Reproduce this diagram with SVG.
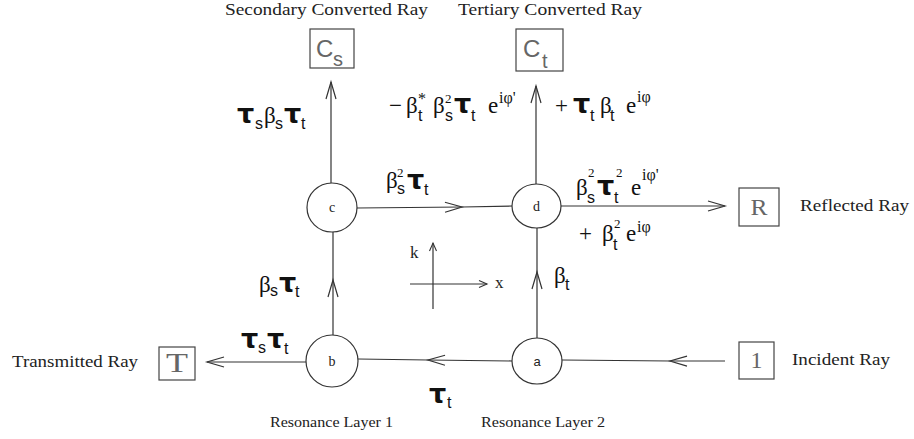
<svg xmlns="http://www.w3.org/2000/svg" width="914" height="439" viewBox="0 0 914 439">
<style>
.ln{stroke:#333;stroke-width:1.2;fill:none}
.nd{fill:#fff;stroke:#333;stroke-width:1.2}
.bx{fill:#fff;stroke:#444;stroke-width:1.2}
.cap{font-family:"Liberation Serif","Times New Roman",serif;font-size:17px;fill:#222}
.rl{font-size:14px}
.nl{font-family:"Liberation Serif",serif;font-size:14px;fill:#222;text-anchor:middle}
.bl{font-family:"Liberation Serif",serif;fill:#666;text-anchor:middle}
.cl{font-family:"Liberation Sans",sans-serif;fill:#666}
.m{fill:#111}
.tau{font-family:"DejaVu Sans",sans-serif;font-weight:bold;font-size:27px}
.b{font-family:"Liberation Serif",serif;font-size:23px}
.sb{font-family:"Liberation Sans",sans-serif;font-size:16px}
.sp{font-family:"Liberation Serif",serif;font-size:16px}
.s2{font-family:"Liberation Serif",serif;font-size:13px}
</style>
<defs>
<marker id="ah" markerUnits="userSpaceOnUse" markerWidth="20" markerHeight="14" refX="18" refY="7" orient="auto" overflow="visible"><path d="M1,2 L18,7 L1,12" fill="none" stroke="#333" stroke-width="1.2"/></marker>
<marker id="as" markerUnits="userSpaceOnUse" markerWidth="10" markerHeight="8" refX="9" refY="4" orient="auto" overflow="visible"><path d="M1,0.5 L9,4 L1,7.5" fill="none" stroke="#333" stroke-width="1.1"/></marker>
</defs>
<rect width="914" height="439" fill="#fff"/>

<g id="connectors">
<path class="ln" d="M331,183 L331,82" marker-end="url(#ah)"/>
<path class="ln" d="M536,184 L536,86" marker-end="url(#ah)"/>
<path class="ln" d="M357,208 L462,207 L512,206" marker-mid="url(#ah)"/>
<path class="ln" d="M561,206 L725,206" marker-end="url(#ah)"/>
<path class="ln" d="M537,338 L537,272 L537,228" marker-mid="url(#ah)"/>
<path class="ln" d="M333,335 L333,280 L333,232" marker-mid="url(#ah)"/>
<path class="ln" d="M725,361 L670,361 L562,360" marker-mid="url(#ah)"/>
<path class="ln" d="M512,361 L428,360 L358,359" marker-mid="url(#ah)"/>
<path class="ln" d="M306,362 L207,362" marker-end="url(#ah)"/>
<path class="ln" d="M433,309 L433,243" marker-end="url(#as)"/>
<path class="ln" d="M410,284 L487,284" marker-end="url(#as)"/>
</g>

<g id="node-a"><ellipse class="nd" cx="537" cy="361" rx="25" ry="23"/><text x="537" y="366" class="nl" style="font-family:'Liberation Sans',sans-serif;font-size:13px">a</text></g>
<g id="node-b"><ellipse class="nd" cx="332" cy="361" rx="26" ry="26"/><text x="332" y="366" class="nl">b</text></g>
<g id="node-c"><ellipse class="nd" cx="332" cy="207.5" rx="25" ry="24.5"/><text x="332" y="212" class="nl">c</text></g>
<g id="node-d"><ellipse class="nd" cx="536.5" cy="206" rx="24.5" ry="22"/><text x="536.5" y="211" class="nl">d</text></g>

<g id="box-Cs"><rect class="bx" x="310" y="29" width="44" height="39"/><text class="cl" y="57"><tspan x="316" font-size="24">C</tspan><tspan x="333" y="66" font-size="20">s</tspan></text><text class="cap" x="225" y="15" textLength="203" lengthAdjust="spacingAndGlyphs">Secondary Converted Ray</text></g>
<g id="box-Ct"><rect class="bx" x="516" y="29" width="47" height="42"/><text class="cl" y="57"><tspan x="523" font-size="24">C</tspan><tspan x="542" y="68" font-size="20">t</tspan></text><text class="cap" x="458" y="15" textLength="184" lengthAdjust="spacingAndGlyphs">Tertiary Converted Ray</text></g>
<g id="box-R"><rect class="bx" x="739" y="188" width="40" height="38"/><text class="bl" x="759" y="215" font-size="24" textLength="17" lengthAdjust="spacingAndGlyphs">R</text><text class="cap" x="800" y="211" textLength="109" lengthAdjust="spacingAndGlyphs">Reflected Ray</text></g>
<g id="box-T"><rect class="bx" x="159" y="347" width="36" height="33"/><text class="bl" x="177" y="372" font-size="28" textLength="22" lengthAdjust="spacingAndGlyphs">T</text><text class="cap" x="12" y="367" textLength="126" lengthAdjust="spacingAndGlyphs">Transmitted Ray</text></g>
<g id="box-1"><rect class="bx" x="739" y="342" width="35" height="37"/><text class="bl" x="756.5" y="368" font-size="24">1</text><text class="cap" x="792" y="365" textLength="98" lengthAdjust="spacingAndGlyphs">Incident Ray</text></g>

<g id="captions">
<text class="cap rl" x="270" y="427" textLength="123" lengthAdjust="spacingAndGlyphs">Resonance Layer 1</text>
<text class="cap rl" x="481" y="427" textLength="124" lengthAdjust="spacingAndGlyphs">Resonance Layer 2</text>
<text class="cap" x="410" y="258">k</text>
<text class="cap" x="495" y="288">x</text>
</g>

<g id="labels" class="m">
<text><tspan class="tau" x="237" y="123">τ</tspan><tspan class="sb" x="255" y="129">s</tspan><tspan class="b" x="264" y="123">β</tspan><tspan class="sb" x="275" y="129">s</tspan><tspan class="tau" x="284" y="123">τ</tspan><tspan class="sb" x="301" y="129">t</tspan></text>
<text><tspan class="b" x="389" y="113">−</tspan><tspan class="b" x="406" y="113">β</tspan><tspan class="sp" x="418" y="104">*</tspan><tspan class="sb" x="418" y="121">t</tspan><tspan class="b" x="433" y="113">β</tspan><tspan class="s2" x="445" y="103">2</tspan><tspan class="sb" x="445" y="121">s</tspan><tspan class="tau" x="454" y="113">τ</tspan><tspan class="sb" x="471" y="121">t</tspan><tspan class="b" x="488" y="113">e</tspan><tspan class="sp" x="499" y="103">iφ'</tspan></text>
<text><tspan class="b" x="555" y="113">+</tspan><tspan class="tau" x="573" y="113">τ</tspan><tspan class="sb" x="590" y="121">t</tspan><tspan class="b" x="600" y="113">β</tspan><tspan class="sb" x="610" y="121">t</tspan><tspan class="b" x="626" y="113">e</tspan><tspan class="sp" x="637" y="102">iφ</tspan></text>
<text><tspan class="b" x="386" y="188">β</tspan><tspan class="s2" x="397" y="177">2</tspan><tspan class="sb" x="397" y="194">s</tspan><tspan class="tau" x="407" y="189">τ</tspan><tspan class="sb" x="424" y="195">t</tspan></text>
<text><tspan class="b" x="576" y="195">β</tspan><tspan class="s2" x="588" y="177">2</tspan><tspan class="sb" x="587" y="203">s</tspan><tspan class="tau" x="597" y="195">τ</tspan><tspan class="s2" x="616" y="177">2</tspan><tspan class="sb" x="614" y="203">t</tspan><tspan class="b" x="631" y="195">e</tspan><tspan class="sp" x="642" y="180">iφ'</tspan></text>
<text><tspan class="b" x="579" y="241">+</tspan><tspan class="b" x="602" y="241">β</tspan><tspan class="s2" x="614" y="228">2</tspan><tspan class="sb" x="613" y="250">t</tspan><tspan class="b" x="626" y="241">e</tspan><tspan class="sp" x="637" y="232">iφ</tspan></text>
<text><tspan class="b" x="554" y="283">β</tspan><tspan class="sb" x="565" y="290">t</tspan></text>
<text><tspan class="b" x="259" y="292">β</tspan><tspan class="sb" x="270" y="296">s</tspan><tspan class="tau" x="279" y="292">τ</tspan><tspan class="sb" x="295" y="297">t</tspan></text>
<text><tspan class="tau" x="241" y="348">τ</tspan><tspan class="sb" x="258" y="353">s</tspan><tspan class="tau" x="267" y="348">τ</tspan><tspan class="sb" x="284" y="354">t</tspan></text>
<text><tspan class="tau" x="429" y="403">τ</tspan><tspan class="sb" x="447" y="408">t</tspan></text>
</g>
</svg>
